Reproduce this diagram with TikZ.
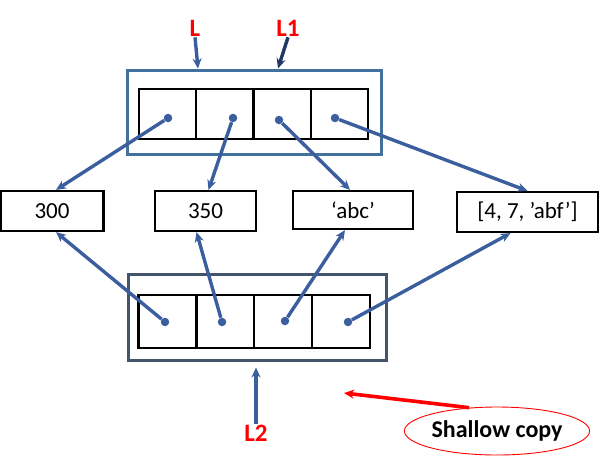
\documentclass[tikz,border=0pt]{standalone}
\usepackage{fontspec}
\setmainfont{Carlito}
\usetikzlibrary{arrows.meta,shapes.geometric}
\definecolor{ptrblue}{HTML}{3A5E9E}
\definecolor{topedge}{HTML}{41719C}
\definecolor{botedge}{HTML}{44546A}
\definecolor{navy}{HTML}{203864}
\begin{document}
\begin{tikzpicture}[x=1pt,y=-1pt]
\useasboundingbox (0,0) rectangle (604,464);

\begin{scope}[every node/.style={draw,line width=3pt,inner sep=0pt}]
    \node[draw=topedge,minimum width=254,minimum height=84] (topbox) at (254,112) {};
    \node[draw=botedge,minimum width=258,minimum height=86] (botbox) at (257,317) {};
\end{scope}

\begin{scope}[every node/.style={draw,line width=2.4pt,inner sep=0pt,minimum width=57.25,minimum height=50}]
    \node (c1) at (167.6,114) {};
    \node (c2) at (224.9,114) {};
    \node (c3) at (282.1,114) {};
    \node (c4) at (339.4,114) {};
\end{scope}

\begin{scope}[every node/.style={draw,line width=2.4pt,inner sep=0pt,minimum width=57.9,minimum height=53}]
    \node (d1) at (167.4,321.5) {};
    \node (d2) at (225.3,321.5) {};
    \node (d3) at (283.2,321.5) {};
    \node (d4) at (341.1,321.5) {};
\end{scope}

\begin{scope}[every node/.style={draw,line width=2.2pt,inner sep=0pt,font=\fontsize{23}{25}\selectfont}]
    \node[minimum width=103,minimum height=40] (v300) at (52,211) {300};
    \node[minimum width=101,minimum height=40] (v350) at (205.5,211) {350};
    \node[minimum width=120,minimum height=38] (vabc) at (353,210) {‘abc’};
    \node[minimum width=141,minimum height=40] (vlist) at (527.5,212) {[4, 7, ’abf’]};
\end{scope}

\begin{scope}[every node/.style={circle,fill=ptrblue,inner sep=0pt,minimum size=8.5}]
    \node (p1) at (168,118) {};
    \node (p2) at (233,118) {};
    \node (p3) at (279,120) {};
    \node (p4) at (335,118) {};
    \node (q1) at (165,322) {};
    \node (q2) at (222,322) {};
    \node (q3) at (285,321) {};
    \node (q4) at (348,322) {};
\end{scope}

\begin{scope}[every node/.style={text=red,font=\fontsize{25}{27}\selectfont\bfseries,inner sep=1pt}]
    \node (L) at (195,28) {L};
    \node (L1) at (288,28) {L1};
    \node (L2) at (256,433) {L2};
\end{scope}

\node[ellipse,draw=red,line width=0.9pt,minimum width=163,minimum height=48,inner sep=0pt,
      font=\fontsize{24}{26}\selectfont\bfseries] (copy) at (497,431) {Shallow copy};
\coordinate (copytip) at (344,393);

\begin{scope}[>={Stealth[length=10pt,width=9pt]},
              every edge/.style={draw=ptrblue,line width=3.4pt}]
    \path [->] (p1) edge ([xshift=4]v300.north);
    \path [->] (p2) edge ([xshift=3]v350.north);
    \path [->] (p3) edge ([xshift=-3]vabc.north);
    \path [->] (p4) edge (vlist.north);
    \path [->] (q1) edge ([xshift=4]v300.south);
    \path [->] (q2) edge ([xshift=-9]v350.south);
    \path [->] (q3) edge ([xshift=-8]vabc.south);
    \path [->] (q4) edge ([xshift=-17]vlist.south);
    \path [->] (L.south) edge ([xshift=-56]topbox.north);
    \path [->] (L1.south) edge[draw=navy] ([xshift=24]topbox.north);
    \path [->] (L2.north) edge ([xshift=-1,yshift=-6]botbox.south);
    \path [->] (copy.140) edge[draw=red,line width=3.6pt] (copytip);
\end{scope}
\end{tikzpicture}
\end{document}
